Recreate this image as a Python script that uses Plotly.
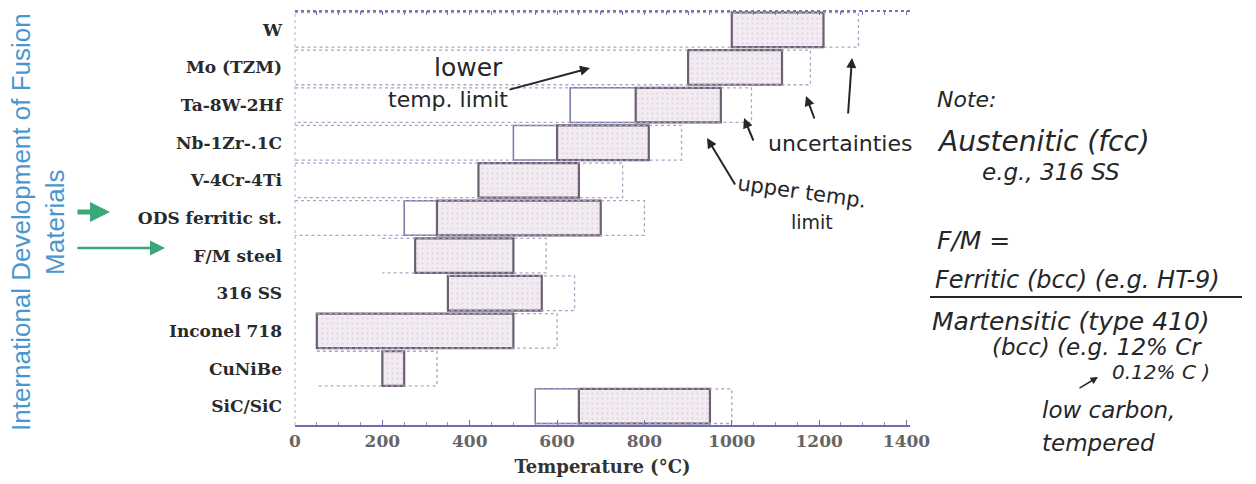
import plotly.graph_objects as go

# ---------------- data ----------------
categories = ["W", "Mo (TZM)", "Ta-8W-2Hf", "Nb-1Zr-.1C", "V-4Cr-4Ti",
              "ODS ferritic st.", "F/M steel", "316 SS", "Inconel 718",
              "CuNiBe", "SiC/SiC"]
lower_uncertain = [1000, 900, 630, 500, 420, 250, 275, 350, 50, 200, 550]
lower_limit = [1000, 900, 780, 600, 420, 325, 275, 350, 50, 200, 650]
upper_limit = [1210, 1115, 975, 810, 650, 700, 500, 565, 500, 250, 950]
upper_uncertain = [1290, 1180, 1045, 885, 750, 800, 575, 640, 600, 325, 1000]
dotted_from = [0, 0, 0, 0, 0, 0, 200, 350, 50, 50, 550]
x_ticks = [0, 200, 400, 600, 800, 1000, 1200, 1400]

n = len(categories)
ypos = [n - 1 - i for i in range(n)]
H = 0.46

# plot-area pixel frame (for placing annotations)
PL, PR, PT, PB = 295, 910, 11, 425


def px(xp):
    return (xp - PL) / (PR - PL)


def py(yp):
    return (PB - yp) / (PB - PT)


fig = go.Figure()

# dotted uncertainty outlines (top, right end, bottom)
xs, ys = [], []
for y, a, b in zip(ypos, dotted_from, upper_uncertain):
    xs += [a, b, b, a, None]
    ys += [y + H, y + H, y - H, y - H, None]
fig.add_trace(go.Scatter(x=xs, y=ys, mode="lines",
                         line=dict(color="#aaa4c8", width=1.3, dash="dot"),
                         hoverinfo="skip", showlegend=False))

# white lower-limit uncertainty boxes
idx = [i for i in range(n) if lower_uncertain[i] < lower_limit[i]]
fig.add_trace(go.Bar(orientation="h",
                     y=[ypos[i] for i in idx],
                     base=[lower_uncertain[i] for i in idx],
                     x=[lower_limit[i] - lower_uncertain[i] for i in idx],
                     width=2 * H,
                     marker=dict(color="white", line=dict(color="#7b74a6", width=1.5)),
                     hoverinfo="skip", showlegend=False))

# operating windows
fig.add_trace(go.Bar(orientation="h", y=ypos, base=lower_limit,
                     x=[h - l for h, l in zip(upper_limit, lower_limit)],
                     width=2 * H,
                     marker=dict(color="#f0e8f0",
                                 line=dict(color="#6c6072", width=2.2),
                                 pattern=dict(shape=".", fgcolor="#cbbccb",
                                              bgcolor="#f2ebf2", size=5, solidity=0.15)),
                     hoverinfo="skip", showlegend=False))

# invisible trace to show the top tick axis
fig.add_trace(go.Scatter(x=[x_ticks[0], x_ticks[-1]], y=[0, 0], xaxis="x2",
                         mode="markers", marker=dict(opacity=0),
                         hoverinfo="skip", showlegend=False))

serif = "DejaVu Serif"
hand = "DejaVu Sans"
ink = "#262626"

fig.update_layout(
    width=1256, height=484,
    margin=dict(l=PL, r=1256 - PR, t=PT, b=484 - PB),
    paper_bgcolor="white", plot_bgcolor="white",
    barmode="overlay", showlegend=False,
    xaxis=dict(range=[0, 1408], tickvals=x_ticks, ticks="inside", ticklen=5,
               tickcolor="#7070b0", showline=True, linecolor="#6d6db0", linewidth=1.6,
               minor=dict(dtick=50, ticks="inside", ticklen=3, tickcolor="#9090c4"),
               showgrid=False, zeroline=False,
               tickfont=dict(family=serif, size=17, color="#666666", weight="bold"),
               title=dict(text="Temperature (°C)", standoff=10,
                          font=dict(family=serif, size=18, color="#333333", weight="bold"))),
    xaxis2=dict(range=[0, 1408], overlaying="x", side="top", showticklabels=False,
                ticks="inside", ticklen=4, tickcolor="#7a6fb0", tickvals=x_ticks,
                minor=dict(dtick=50, ticks="inside", ticklen=4, tickcolor="#7a6fb0"),
                showline=False, showgrid=False, zeroline=False),
    yaxis=dict(range=[-0.5, 10.5], tickvals=ypos, ticktext=categories,
               showgrid=False, zeroline=False, showline=False, ticks="",
               ticklabelstandoff=12,
               tickfont=dict(family=serif, size=17, color="#2a2a2a", weight="bold")),
)

# frame lines
fig.add_shape(type="line", xref="paper", yref="paper", x0=0, x1=1, y0=1, y1=1,
              line=dict(color="#7a6fb0", width=2, dash="dot"))
fig.add_shape(type="line", xref="paper", yref="paper", x0=0, x1=0, y0=0, y1=1,
              line=dict(color="#b5b0cc", width=1, dash="dot"))
# underline of the F/M fraction
fig.add_shape(type="line", xref="paper", yref="paper", x0=px(930), x1=px(1242),
              y0=py(297), y1=py(297), line=dict(color=ink, width=2))

ann = []


def note(text, xp, yp, size, anchor="left", angle=0, italic=True):
    ann.append(dict(text=text, xref="paper", yref="paper", x=px(xp), y=py(yp),
                    xanchor=anchor, yanchor="middle", showarrow=False, textangle=angle,
                    font=dict(family=hand, size=size, color=ink,
                              style="italic" if italic else "normal")))


def arrow(hx, hy, tx, ty, color=ink, width=2, head=2, size=1.0):
    ann.append(dict(text="", xref="paper", yref="paper", x=px(hx), y=py(hy),
                    ax=tx - hx, ay=ty - hy, axref="pixel", ayref="pixel",
                    showarrow=True, arrowhead=head, arrowsize=size,
                    arrowwidth=width, arrowcolor=color))


# left vertical title
ann.append(dict(text="International Development of Fusion<br>Materials",
                xref="paper", yref="paper", x=px(38), y=py(222), textangle=-90,
                showarrow=False, xanchor="center", yanchor="middle",
                font=dict(family="Liberation Sans", size=26, color="#4a97cf")))

# green arrows
arrow(110, 212, 76, 212, color="#3aa878", width=5, head=2, size=0.8)
arrow(165, 248, 76, 248, color="#3aa878", width=2.5, head=2, size=1.2)

# handwritten annotations on the chart
note("lower", 468, 68, 25, anchor="center", italic=False)
note("temp. limit", 448, 100, 22, anchor="center", italic=False)
arrow(590, 68, 508, 90)
note("upper temp.", 802, 192, 21, anchor="center", angle=8, italic=False)
note("limit", 812, 222, 19, anchor="center", italic=False)
arrow(707, 138, 736, 186)
note("uncertainties", 840, 143, 22, anchor="center", italic=False)
arrow(744, 118, 754, 142)
arrow(806, 96, 815, 120)
arrow(852, 58, 848, 115)

# handwritten notes on the right
note("Note:", 935, 100, 22)
note("Austenitic (fcc)", 935, 142, 28)
note("e.g., 316 SS", 980, 172, 23)
note("F/M =", 935, 240, 25)
note("Ferritic (bcc) (e.g. HT-9)", 933, 280, 24)
note("Martensitic (type 410)", 930, 321, 25)
note("(bcc) (e.g. 12% Cr", 990, 347, 23)
note("0.12% C )", 1110, 372, 20)
arrow(1098, 377, 1078, 389, width=1.5)
note("low carbon,", 1040, 410, 23)
note("tempered", 1040, 443, 23)

fig.update_layout(annotations=ann)

fig.write_html("out.html")
